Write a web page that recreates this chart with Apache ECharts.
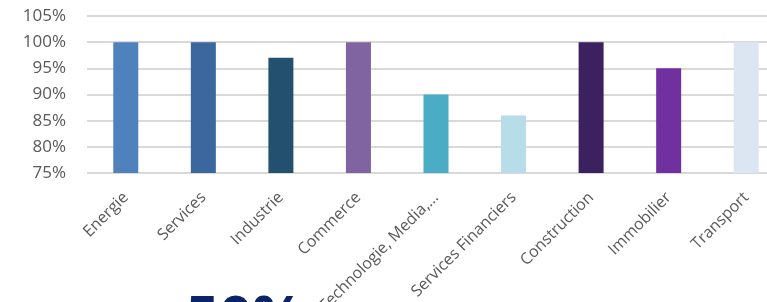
<!DOCTYPE html>
<html>
<head>
<meta charset="utf-8">
<script src="https://cdn.jsdelivr.net/npm/echarts@6/dist/echarts.min.js"></script>
<style>
  html, body { margin: 0; padding: 0; background: #fff; overflow: hidden; }
  #chart { width: 785px; height: 302px; }
</style>
</head>
<body>
<div id="chart"></div>
<script>
// secteurs et taux
var categories = ['Energie', 'Services', 'Industrie', 'Commerce', 'Technologie, Media,...',
  'Services Financiers', 'Construction', 'Immobilier', 'Transport']
var values = [100, 100, 97, 100, 90, 86, 100, 95, 100]
var barColors = ['#4F81BD', '#3C679E', '#24506F', '#8064A2', '#4BACC6',
  '#B7DDE8', '#3B2160', '#7030A0', '#DCE6F2']

var chart = echarts.init(document.getElementById('chart'))

chart.setOption({
  animation: false,
  grid: { left: 87, right: 0, top: 16, bottom: 129, containLabel: false, outerBoundsMode: 'none' },
  xAxis: {
    type: 'category',
    data: categories,
    axisTick: { show: false },
    axisLine: { show: false },
    axisLabel: {
      rotate: 45,
      interval: 0,
      color: '#595959',
      fontFamily: 'Open Sans',
      fontSize: 16,
      margin: 22
    }
  },
  yAxis: {
    type: 'value',
    min: 75,
    max: 105,
    interval: 5,
    axisLine: { show: false },
    axisTick: { show: false },
    axisLabel: {
      formatter: '{value}%',
      color: '#595959',
      fontFamily: 'Open Sans',
      fontSize: 17,
      margin: 21
    },
    splitLine: { lineStyle: { color: '#D9D9D9', width: 2 } }
  },
  series: [{
    type: 'bar',
    barWidth: 25,
    data: values.map(function (v, i) {
      return { value: v, itemStyle: { color: barColors[i] } }
    })
  }],
  graphic: [{
    type: 'text',
    left: 186,
    top: 291,
    style: {
      text: '50%',
      fill: '#0B2466',
      font: 'bold 58px "Open Sans"'
    }
  }]
})
</script>
</body>
</html>
